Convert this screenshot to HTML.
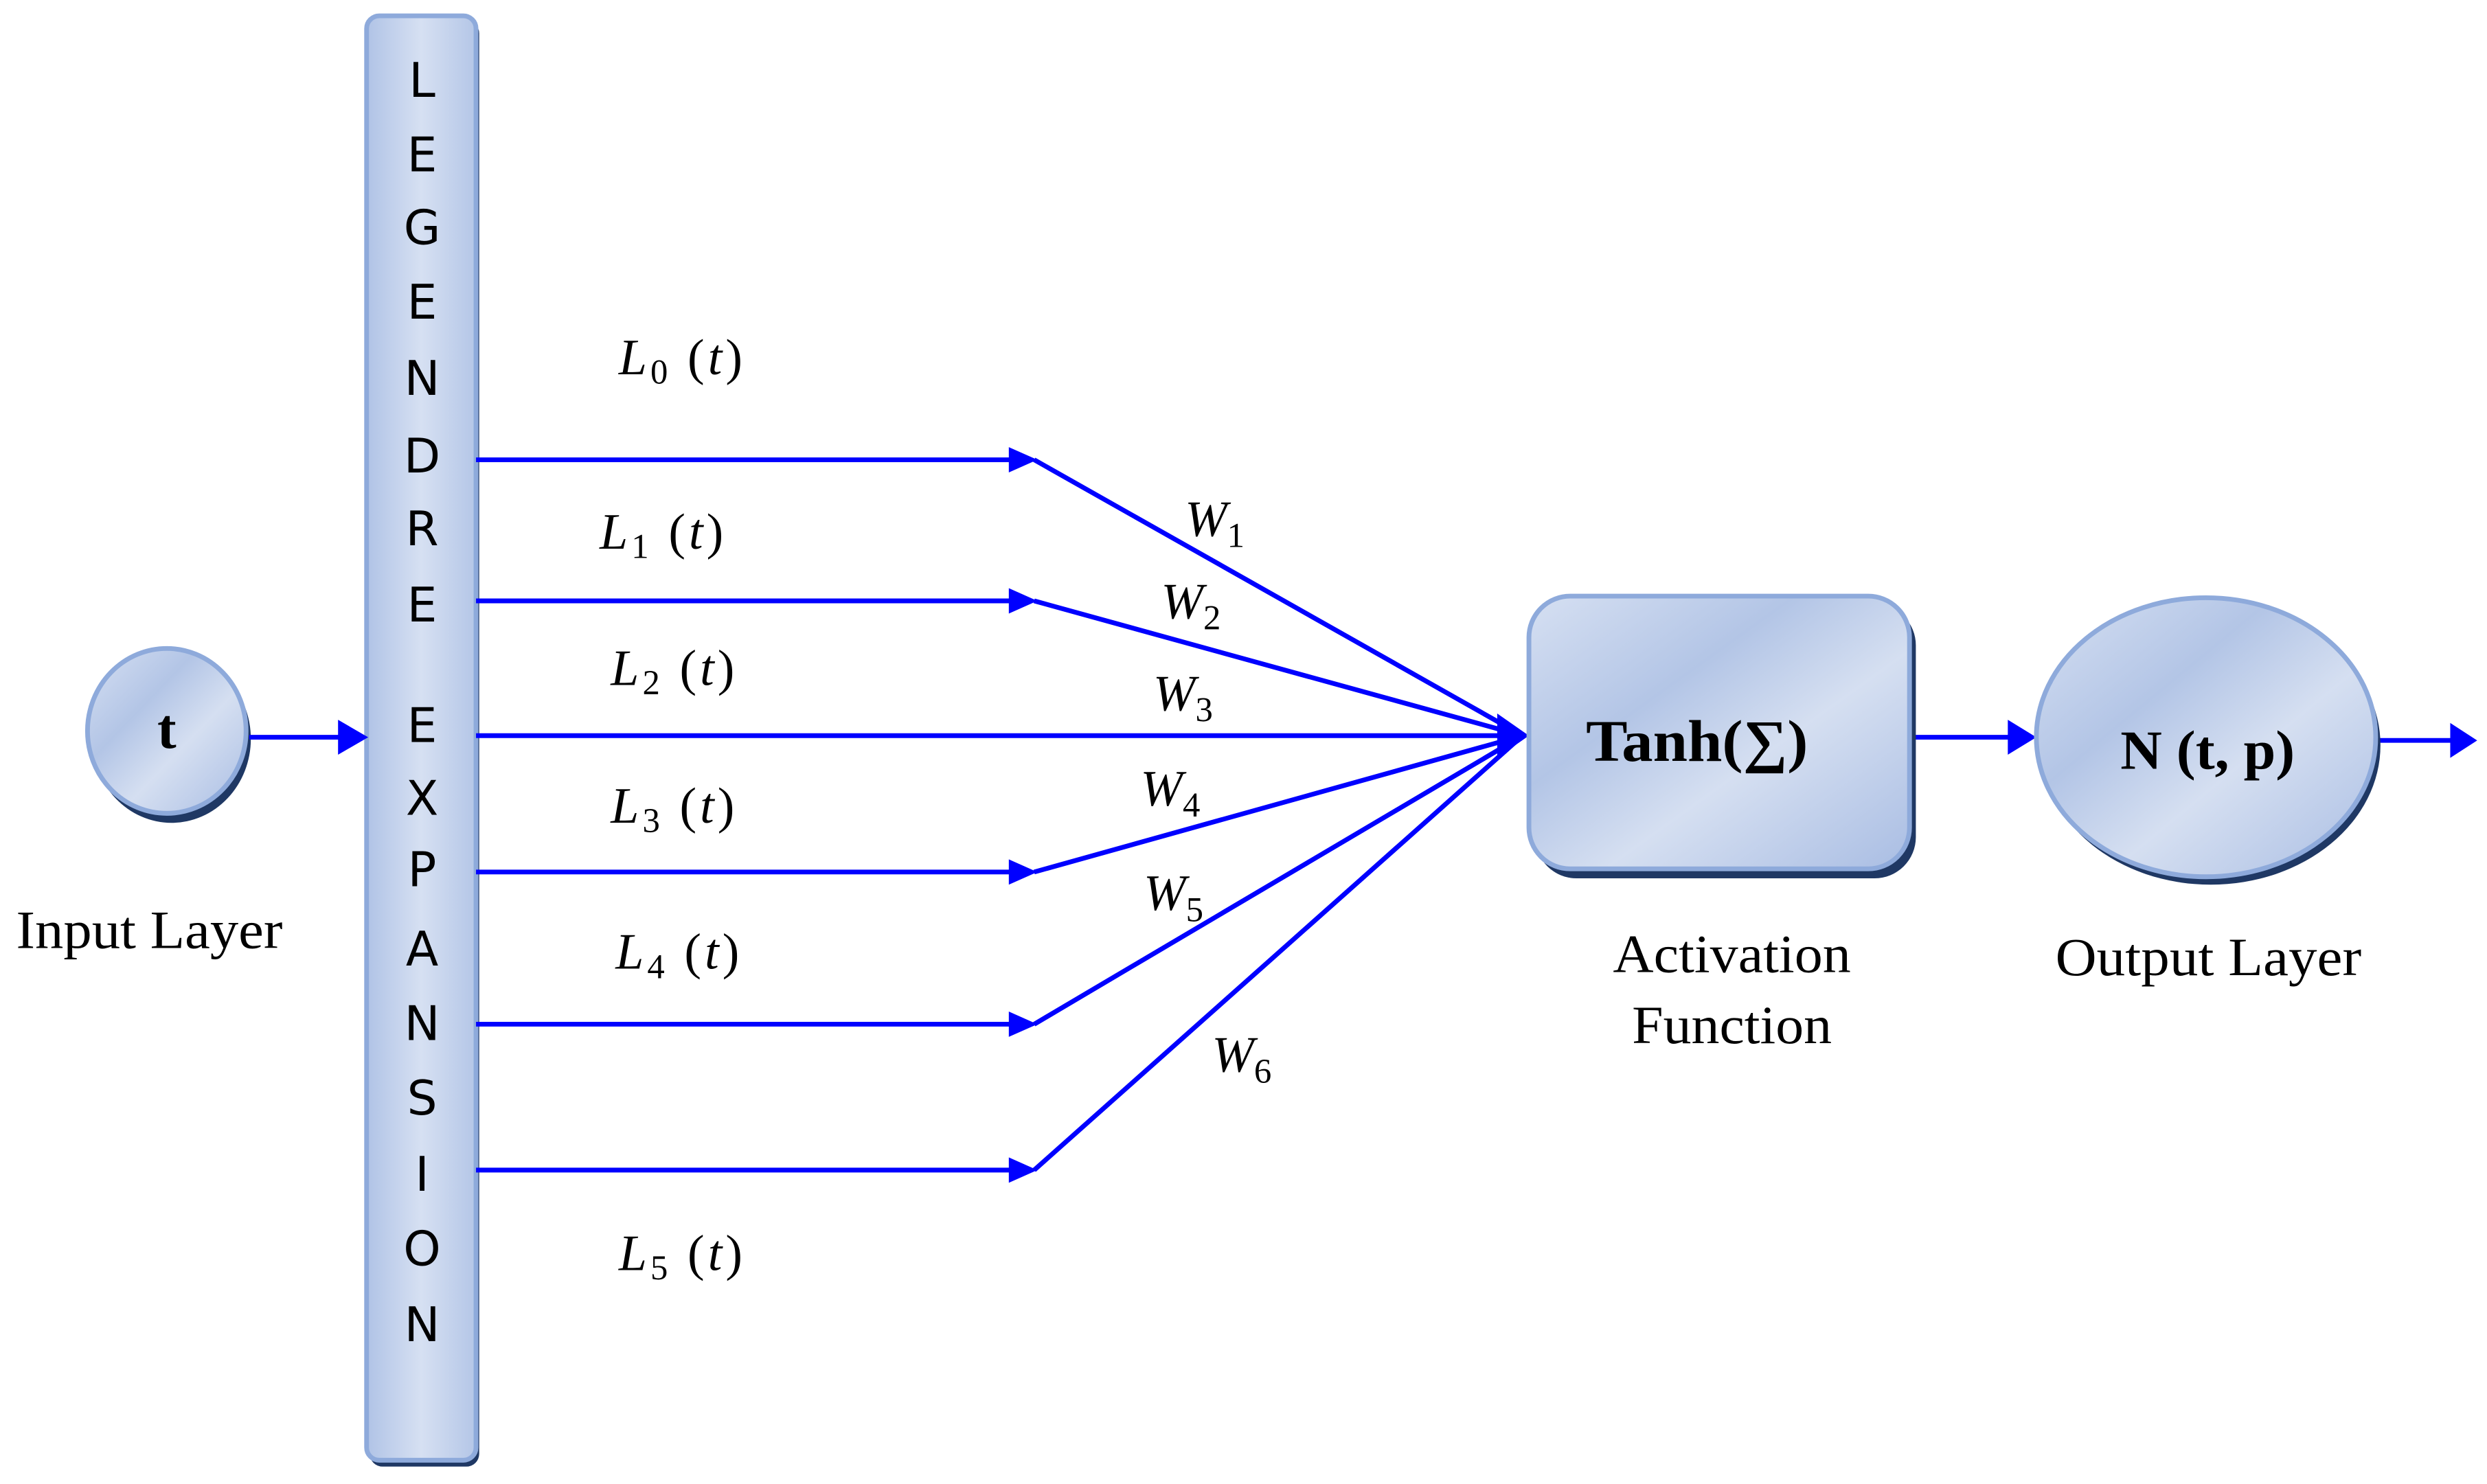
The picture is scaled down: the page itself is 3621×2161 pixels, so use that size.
<!DOCTYPE html>
<html><head><meta charset="utf-8"><style>
html,body{margin:0;padding:0;background:#fff;}
svg{display:block;}
</style></head><body>
<svg width="3621" height="2161" viewBox="0 0 1568 936" xmlns="http://www.w3.org/2000/svg">
<defs>
<linearGradient id="g1" x1="0" y1="0" x2="1" y2="1">
<stop offset="0" stop-color="#d6e0f2"/><stop offset="0.35" stop-color="#b3c5e6"/><stop offset="0.6" stop-color="#d5dff1"/><stop offset="1" stop-color="#a9bde3"/>
</linearGradient>
<linearGradient id="gbar" x1="0" y1="0" x2="1" y2="0">
<stop offset="0" stop-color="#b0c3e6"/><stop offset="0.5" stop-color="#d6e0f2"/><stop offset="1" stop-color="#b4c6e7"/>
</linearGradient>
</defs>
<g font-family="Liberation Serif, serif">
<ellipse cx="108" cy="466" rx="50" ry="53" fill="#1f3864"/>
<ellipse cx="105" cy="461" rx="50" ry="52" fill="url(#g1)" stroke="#8eaadb" stroke-width="3"/>
<text x="105" y="472" font-size="36" font-weight="bold" text-anchor="middle">t</text>
<text x="10" y="598" font-size="34" textLength="168" lengthAdjust="spacingAndGlyphs">Input Layer</text>
<rect x="233" y="13" width="69" height="912" rx="8" fill="#1f3864"/>
<rect x="231" y="10" width="69" height="911" rx="8" fill="url(#gbar)" stroke="#8eaadb" stroke-width="3"/>
<g font-family="DejaVu Sans, Liberation Sans, sans-serif" font-size="30" text-anchor="middle">
<text x="266" y="61">L</text><text x="266" y="108">E</text><text x="266" y="154">G</text><text x="266" y="201">E</text>
<text x="266" y="249">N</text><text x="266" y="298">D</text><text x="266" y="344">R</text><text x="266" y="392">E</text>
<text x="266" y="468">E</text><text x="266" y="514">X</text><text x="266" y="559">P</text><text x="266" y="609">A</text>
<text x="266" y="656">N</text><text x="266" y="703">S</text><text x="266" y="751">I</text><text x="266" y="798">O</text><text x="266" y="846">N</text>
</g>
<g stroke="#0000ff" stroke-width="3" fill="none">
<line x1="157" y1="465" x2="216" y2="465"/>
<line x1="300" y1="290" x2="640" y2="290"/>
<line x1="300" y1="379" x2="640" y2="379"/>
<line x1="300" y1="464" x2="950" y2="464"/>
<line x1="300" y1="550" x2="640" y2="550"/>
<line x1="300" y1="646" x2="640" y2="646"/>
<line x1="300" y1="738" x2="640" y2="738"/>
<line x1="652" y1="290" x2="960" y2="464"/>
<line x1="652" y1="379" x2="960" y2="464"/>
<line x1="652" y1="550" x2="960" y2="464"/>
<line x1="652" y1="646" x2="960" y2="464"/>
<line x1="652" y1="738" x2="960" y2="464"/>
<line x1="1204" y1="465" x2="1270" y2="465"/>
<line x1="1498" y1="467" x2="1548" y2="467"/>
</g>
<g fill="#0000ff">
<polygon points="213,454 232,465 213,476"/>
<polygon points="636,282 654,290 636,298"/>
<polygon points="636,371 654,379 636,387"/>
<polygon points="636,542 654,550 636,558"/>
<polygon points="636,638 654,646 636,654"/>
<polygon points="636,730 654,738 636,746"/>
<polygon points="944,450 964,464 944,478"/>
<polygon points="1266,454 1284,465 1266,476"/>
<polygon points="1545,456 1562,467 1545,478"/>
</g>
<g font-size="32" font-style="italic">
<text x="390" y="236" textLength="78" lengthAdjust="spacing">L<tspan font-style="normal" font-size="22" dy="6">0</tspan><tspan font-style="normal" dy="-6"> (</tspan>t<tspan font-style="normal">)</tspan></text>
<text x="378" y="346" textLength="78" lengthAdjust="spacing">L<tspan font-style="normal" font-size="22" dy="6">1</tspan><tspan font-style="normal" dy="-6"> (</tspan>t<tspan font-style="normal">)</tspan></text>
<text x="385" y="432" textLength="78" lengthAdjust="spacing">L<tspan font-style="normal" font-size="22" dy="6">2</tspan><tspan font-style="normal" dy="-6"> (</tspan>t<tspan font-style="normal">)</tspan></text>
<text x="385" y="519" textLength="78" lengthAdjust="spacing">L<tspan font-style="normal" font-size="22" dy="6">3</tspan><tspan font-style="normal" dy="-6"> (</tspan>t<tspan font-style="normal">)</tspan></text>
<text x="388" y="611" textLength="78" lengthAdjust="spacing">L<tspan font-style="normal" font-size="22" dy="6">4</tspan><tspan font-style="normal" dy="-6"> (</tspan>t<tspan font-style="normal">)</tspan></text>
<text x="390" y="801" textLength="78" lengthAdjust="spacing">L<tspan font-style="normal" font-size="22" dy="6">5</tspan><tspan font-style="normal" dy="-6"> (</tspan>t<tspan font-style="normal">)</tspan></text>
<text x="747" y="338">W<tspan font-style="normal" font-size="22" dy="7">1</tspan></text>
<text x="732" y="390">W<tspan font-style="normal" font-size="22" dy="7">2</tspan></text>
<text x="727" y="448">W<tspan font-style="normal" font-size="22" dy="7">3</tspan></text>
<text x="719" y="508">W<tspan font-style="normal" font-size="22" dy="7">4</tspan></text>
<text x="721" y="574">W<tspan font-style="normal" font-size="22" dy="7">5</tspan></text>
<text x="764" y="676">W<tspan font-style="normal" font-size="22" dy="7">6</tspan></text>
</g>
<rect x="968" y="381" width="240" height="173" rx="26" fill="#1f3864"/>
<rect x="964" y="376" width="240" height="172" rx="26" fill="url(#g1)" stroke="#8eaadb" stroke-width="3"/>
<text x="1000" y="480" font-size="37" font-weight="bold" textLength="140" lengthAdjust="spacingAndGlyphs">Tanh(∑)</text>
<text x="1017" y="613" font-size="34" textLength="150" lengthAdjust="spacingAndGlyphs">Activation</text>
<text x="1029" y="658" font-size="34" textLength="126" lengthAdjust="spacingAndGlyphs">Function</text>
<ellipse cx="1394" cy="470" rx="107" ry="88" fill="#1f3864"/>
<ellipse cx="1391" cy="465" rx="107" ry="88" fill="url(#g1)" stroke="#8eaadb" stroke-width="3"/>
<text x="1337" y="485" font-size="35" font-weight="bold" textLength="110" lengthAdjust="spacingAndGlyphs">N (t, p)</text>
<text x="1296" y="615" font-size="34" textLength="193" lengthAdjust="spacingAndGlyphs">Output Layer</text>
</g>
</svg>
</body></html>
